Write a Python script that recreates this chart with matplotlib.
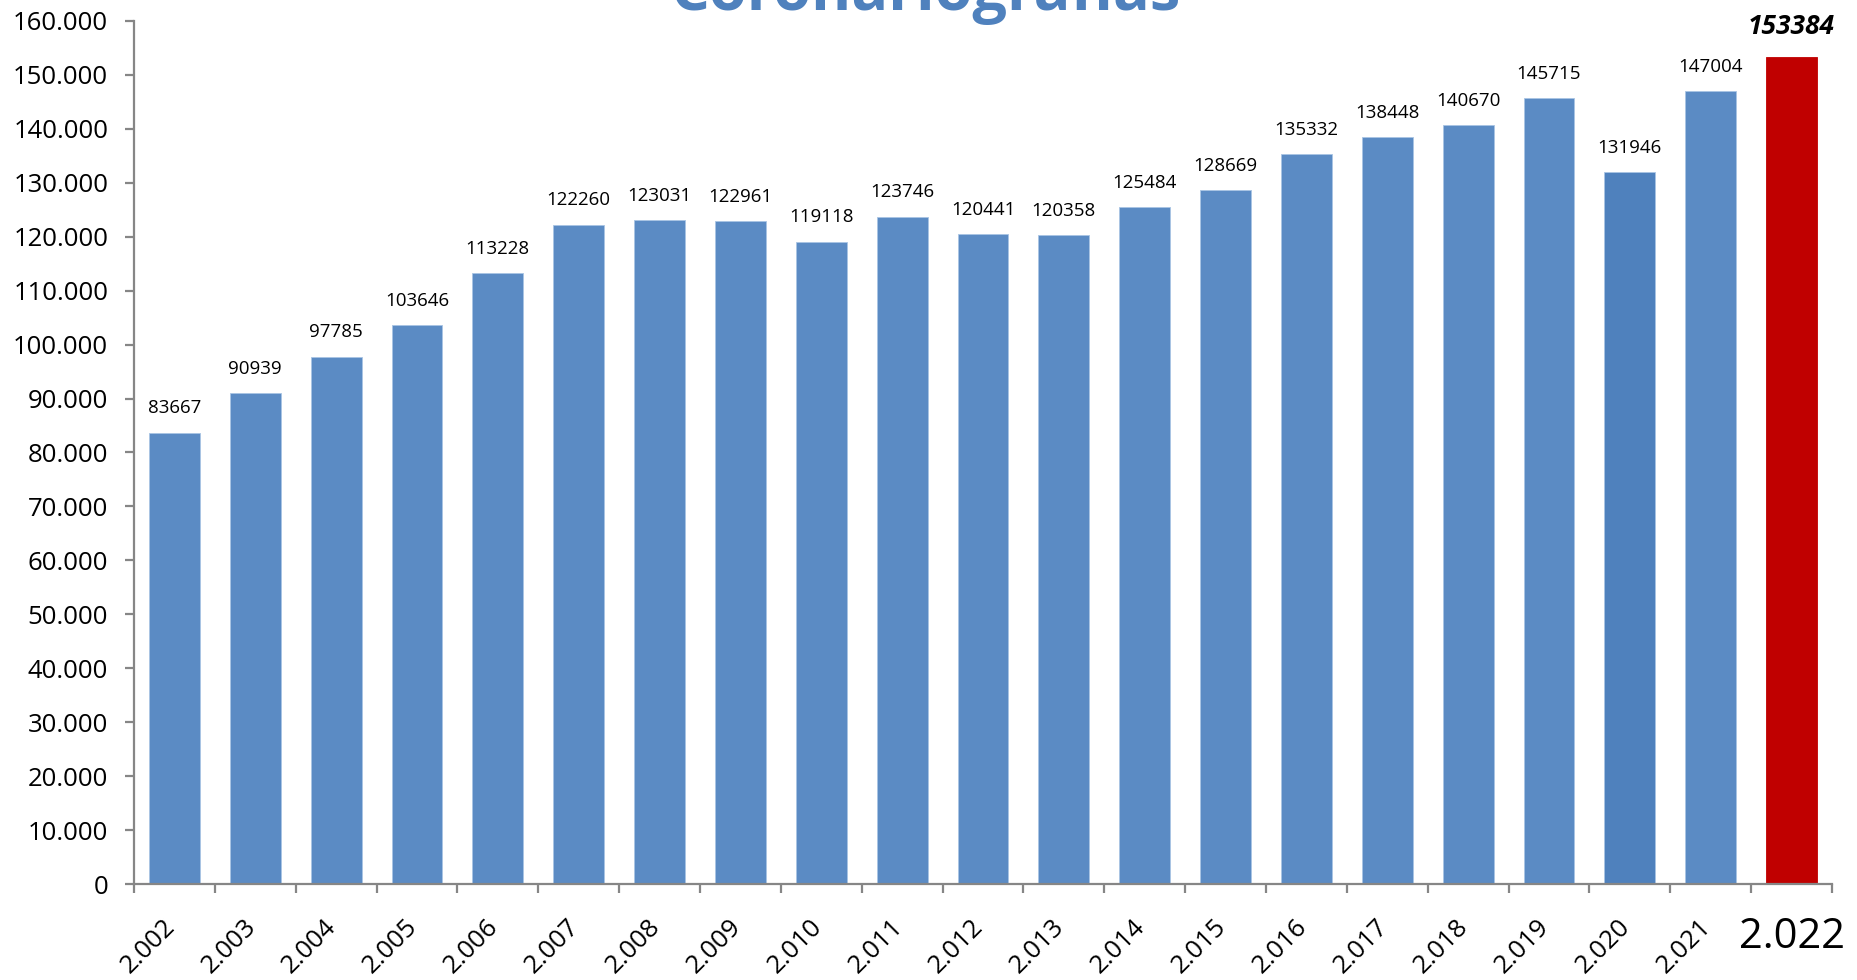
import numpy as np
import matplotlib
matplotlib.use('Agg')
import matplotlib.pyplot as plt
import matplotlib.transforms as mtransforms

# data
years = ['2.002', '2.003', '2.004', '2.005', '2.006', '2.007', '2.008', '2.009', '2.010', '2.011',
         '2.012', '2.013', '2.014', '2.015', '2.016', '2.017', '2.018', '2.019', '2.020', '2.021',
         '2.022']
values = [83667, 90939, 97785, 103646, 113228, 122260, 123031, 122961, 119118, 123746,
          120441, 120358, 125484, 128669, 135332, 138448, 140670, 145715, 131946, 147004,
          153384]
title = 'Coronariografías'

plt.rcParams['font.family'] = ['Open Sans', 'DejaVu Sans']

blue = '#5B8BC4'
colors = [blue] * len(values)
colors[-3] = '#4F81BD'   # 2020 a bit darker
colors[-1] = '#C00000'

fig = plt.figure(figsize=(18.57, 9.8), dpi=100)
ax = fig.add_axes([134 / 1857, 1 - 884 / 980, (1832 - 134) / 1857, (884 - 21) / 980])

x = np.arange(len(values))
ax.bar(x, values, width=0.63, color=colors, edgecolor='#A9C4E4', linewidth=0.6, zorder=2)
ax.patches[-1].set_edgecolor(colors[-1])

ax.set_xlim(-0.5, len(values) - 0.5)
ax.set_ylim(0, 160000)

yt = np.arange(0, 160001, 10000)
ax.set_yticks(yt)
ax.set_yticklabels(['{:,}'.format(v).replace(',', '.') for v in yt], fontsize=18.5)

ax.set_xticks(np.arange(-0.5, len(values)))
ax.set_xticklabels([])

gray = '#868686'
for s in ['top', 'right']:
    ax.spines[s].set_visible(False)
for s in ['left', 'bottom']:
    ax.spines[s].set_color(gray)
    ax.spines[s].set_linewidth(1.6)
ax.tick_params(axis='y', length=6.5, width=1.6, color=gray, pad=12)
ax.tick_params(axis='x', length=6.5, width=1.6, color=gray)

# value labels
for i, v in enumerate(values[:-1]):
    ax.annotate(str(v), (i, v), xytext=(0, 11), textcoords='offset points',
                ha='center', va='bottom', fontsize=13.5)
ax.annotate(str(values[-1]), (x[-1], values[-1]), xytext=(0, 12), textcoords='offset points',
            ha='center', va='bottom', fontsize=19, fontweight='bold', fontstyle='italic')

# year labels
trans = mtransforms.blended_transform_factory(ax.transData, ax.transAxes)
for i, lab in enumerate(years[:-1]):
    ax.text(i + 0.07, -0.035, lab, transform=trans, rotation=45,
            ha='right', va='top', fontsize=18.5)
ax.text(x[-1], -0.0614, years[-1], transform=trans, ha='center', va='center', fontsize=30)

fig.text(926 / 1857, 1 - 10 / 980, title, ha='center', va='baseline',
         fontsize=44, fontweight='bold', color='#4F81BD')

fig.savefig('out.png', dpi=100)
